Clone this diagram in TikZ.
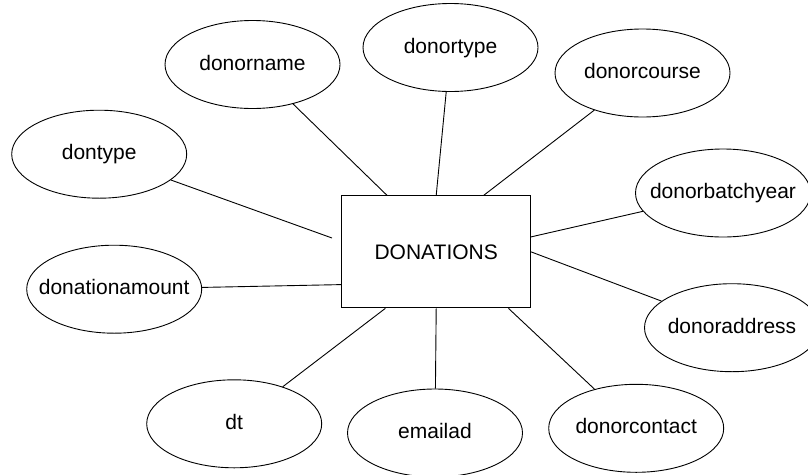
\documentclass[tikz,border=0pt]{standalone}
\usepackage{fontspec}
\setmainfont{Liberation Sans}
\usetikzlibrary{shapes.geometric}
% attribute labels take no width, so every ellipse keeps its set size
\newcommand\attrlabel[1]{\makebox[0pt]{#1}}
\begin{document}
\begin{tikzpicture}[x=1pt,y=-1pt,
  attr/.style={ellipse,draw,line width=0.9pt,minimum width=175pt,minimum height=88pt,
    inner sep=0pt,font=\fontsize{21}{25}\selectfont,text height=15pt,text depth=4pt},
  entity/.style={rectangle,draw,line width=0.9pt,minimum width=189pt,minimum height=112pt,
    inner sep=0pt,font=\fontsize{21}{25}\selectfont,text height=15pt,text depth=0pt},
  link/.style={line width=0.9pt}]
\useasboundingbox (0,0) rectangle (808,474);
\clip (0,0) rectangle (808,474);

% entity
\node[entity] (don) at (436.2,251.9) {DONATIONS};

% attributes
\node[attr] (dname)   at (252.5,64.5)  {\attrlabel{donorname}};
\node[attr] (dtype)   at (450.5,47.5)  {\attrlabel{donortype}};
\node[attr] (dcourse) at (642.5,73)    {\attrlabel{donorcourse}};
\node[attr] (dbatch)  at (723,193)     {\attrlabel{donorbatchyear}};
\node[attr] (daddr)   at (732,327.7)   {\attrlabel{donoraddress}};
\node[attr] (dcont)   at (636.2,428.3) {\attrlabel{donorcontact}};
\node[attr] (email)   at (435,433)     {\attrlabel{emailad}};
\node[attr] (dt)      at (234.2,423.8) {\attrlabel{dt}};
\node[attr] (damount) at (114.2,289.2) {\attrlabel{donationamount}};
\node[attr] (dontype) at (99.2,154.2)  {\attrlabel{dontype}};

% free end of the dontype link, just short of the entity box
\coordinate (dontypeend) at (332,238);

% links
\draw[link] (don.131.4) -- (dname);
\draw[link] (don.north) -- (dtype);
\draw[link] (don.50)    -- (dcourse);
\draw[link] (don.9.5)   -- (dbatch);
\draw[link] (don.east)  -- (daddr);
\draw[link] (don.-38.3) -- (dcont);
\draw[link] (don.south) -- (email);
\draw[link] (don.228.6) -- (dt);
\draw[link] (don.199.1) -- (damount);
\draw[link] (dontypeend) -- (dontype);
\end{tikzpicture}
\end{document}
